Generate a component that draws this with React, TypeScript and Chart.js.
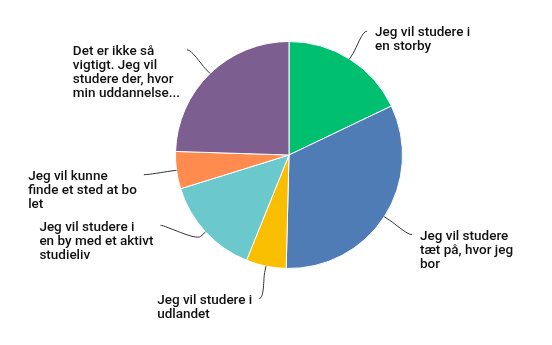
import React, { useEffect, useRef } from "react";
import { Chart, registerables } from "chart.js";

Chart.register(...registerables);

// Survey answers and their share of respondents (%)
const categories = [
  "Jeg vil studere i en storby",
  "Jeg vil studere tæt på, hvor jeg bor",
  "Jeg vil studere i udlandet",
  "Jeg vil studere i en by med et aktivt studieliv",
  "Jeg vil kunne finde et sted at bo let",
  "Det er ikke så vigtigt. Jeg vil studere der, hvor min uddannelse...",
];

const shares = [17.9, 32.5, 5.7, 14.1, 5.3, 24.5];

// Wrapped text shown next to each slice
const labelLines = [
  ["Jeg vil studere i", "en storby"],
  ["Jeg vil studere", "tæt på, hvor jeg", "bor"],
  ["Jeg vil studere i", "udlandet"],
  ["Jeg vil studere i", "en by med et aktivt", "studieliv"],
  ["Jeg vil kunne", "finde et sted at bo", "let"],
  ["Det er ikke så", "vigtigt. Jeg vil", "studere der, hvor", "min uddannelse..."],
];

const sliceColors = ["#00BF6F", "#507CB6", "#F9BE00", "#6BC8CD", "#FF8B4F", "#7D5E90"];

// Label layout
const LABEL_FONT = "500 13.5px Roboto";
const LABEL_COLOR = "#111111";
const LINE_HEIGHT = 14;
const LABEL_DISTANCE = 33;
// vertical nudges keep neighbouring labels on the left side apart
const labelShiftY = [0, 0, 0, -29, 0, 0];

const outsideLabels = {
  id: "outsideLabels",
  afterDatasetsDraw(chart: any) {
    const ctx: CanvasRenderingContext2D = chart.ctx;
    const meta = chart.getDatasetMeta(0);
    ctx.save();
    ctx.font = LABEL_FONT;
    meta.data.forEach((arc: any, i: number) => {
      const { x, y, startAngle, endAngle, outerRadius } = arc.getProps(
        ["x", "y", "startAngle", "endAngle", "outerRadius"],
        true
      );
      const mid = (startAngle + endAngle) / 2;
      const cos = Math.cos(mid);
      const sin = Math.sin(mid);
      const right = cos >= 0;
      const R = outerRadius + LABEL_DISTANCE;
      let ax = x + cos * R;
      let ay = y + sin * R;
      if (labelShiftY[i]) {
        ay += labelShiftY[i];
        const dy = ay - y;
        ax = x + (right ? 1 : -1) * Math.sqrt(Math.max(R * R - dy * dy, 0));
      }
      // connector: from label anchor, soft bend, into the slice edge
      const tx = x + cos * outerRadius;
      const ty = y + sin * outerRadius;
      const br = outerRadius + LABEL_DISTANCE / 5;
      const bx = x + cos * br;
      const by = y + sin * br;
      ctx.beginPath();
      ctx.moveTo(ax, ay);
      ctx.bezierCurveTo(ax + (right ? -5 : 5), ay, 2 * bx - tx, 2 * by - ty, bx, by);
      ctx.lineTo(tx, ty);
      ctx.strokeStyle = "#333333";
      ctx.lineWidth = 1;
      ctx.stroke();

      const lines = labelLines[i];
      const w = Math.max(...lines.map((l) => ctx.measureText(l).width));
      const left = right ? ax + 8 : ax - 7 - w;
      ctx.fillStyle = LABEL_COLOR;
      ctx.textAlign = "left";
      ctx.textBaseline = "middle";
      lines.forEach((l, k) => ctx.fillText(l, left, ay + 2 + k * LINE_HEIGHT));
    });
    ctx.restore();
  },
};

export default function App() {
  const canvasRef = useRef<HTMLCanvasElement | null>(null);

  useEffect(() => {
    document.body.style.margin = "0";
    const canvas = canvasRef.current;
    if (!canvas) return;
    const chart = new Chart(canvas, {
      type: "pie",
      data: {
        labels: categories,
        datasets: [
          {
            data: shares,
            backgroundColor: sliceColors,
            borderColor: "#ffffff",
            borderWidth: 1,
          },
        ],
      },
      options: {
        responsive: false,
        animation: false,
        events: [],
        layout: { padding: { top: 41, bottom: 76, left: 175, right: 149 } },
        plugins: {
          legend: { display: false },
          tooltip: { enabled: false },
        },
      },
      plugins: [outsideLabels],
    });
    return () => chart.destroy();
  }, []);

  return (
    <div style={{ width: 552, height: 345, background: "#ffffff" }}>
      <canvas ref={canvasRef} width={552} height={345} style={{ display: "block" }} />
    </div>
  );
}
